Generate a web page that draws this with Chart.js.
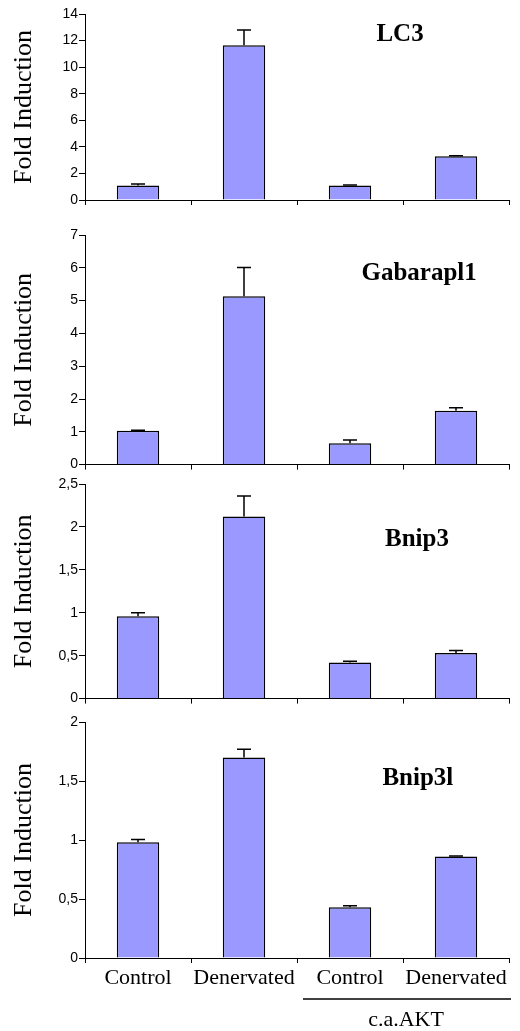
<!DOCTYPE html>
<html>
<head>
<meta charset="utf-8">
<script src="https://cdn.jsdelivr.net/npm/chart.js@4/dist/chart.umd.min.js"></script>
<style>
  html, body { margin: 0; padding: 0; background: #fff; }
  #wrap { position: relative; width: 520px; height: 1031px; }
  .panel { position: absolute; left: 0; width: 520px; }
</style>
</head>
<body>
<div id="wrap">
  <div class="panel" style="top:0px;height:212px"><canvas id="c0"></canvas></div>
  <div class="panel" style="top:212px;height:262px"><canvas id="c1"></canvas></div>
  <div class="panel" style="top:474px;height:234px"><canvas id="c2"></canvas></div>
  <div class="panel" style="top:708px;height:323px"><canvas id="c3"></canvas></div>
</div>
<script>
// datos
const categorias = ["Control", "Denervated", "Control", "Denervated"];
const genes = ["LC3", "Gabarapl1", "Bnip3", "Bnip3l"];

const lc3 = [1.1, 11.65, 1.1, 3.3];
const lc3Err = [0.1, 1.15, 0.02, 0.03];
const gabarapl1 = [1.03, 5.13, 0.65, 1.64];
const gabarapl1Err = [0.02, 0.88, 0.1, 0.09];
const bnip3 = [0.96, 2.12, 0.42, 0.53];
const bnip3Err = [0.04, 0.24, 0.015, 0.03];
const bnip3l = [0.98, 1.70, 0.43, 0.86];
const bnip3lErr = [0.025, 0.07, 0.012, 0.005];

const yMax = [14, 7, 2.5, 2];
const yStep = [2, 1, 0.5, 0.5];
const grupo = "c.a.AKT";

const valores = [lc3, gabarapl1, bnip3, bnip3l];
const errores = [lc3Err, gabarapl1Err, bnip3Err, bnip3lErr];

// layout de cada panel (padding top/bottom, alto del eje x, posicion del titulo del gen)
const paneles = [
  { top: 14, bottom: 5, xh: 7, gx: 0.743, gy: 0.11 },
  { top: 23, bottom: 0, xh: 7, gx: 0.788, gy: 0.17 },
  { top: 10, bottom: 1, xh: 7, gx: 0.783, gy: 0.26 },
  { top: 14, bottom: 28, xh: 45, gx: 0.785, gy: 0.24 },
];

const serif = '"Liberation Serif", "Times New Roman", Times, serif';
const sans = 'Arial, "Liberation Sans", sans-serif';

// barras de error, nombre del gen y la linea del grupo
const extras = {
  id: "extras",
  afterDatasetsDraw(chart, args, opts) {
    const { ctx, chartArea: a, scales: { x, y } } = chart;
    const meta = chart.getDatasetMeta(0);
    ctx.save();
    ctx.strokeStyle = "#000";
    ctx.lineWidth = 1.5;
    meta.data.forEach((bar, i) => {
      const tope = y.getPixelForValue(opts.medias[i] + opts.errs[i]);
      ctx.beginPath();
      ctx.moveTo(bar.x, bar.y);
      ctx.lineTo(bar.x, tope);
      ctx.moveTo(bar.x - 7, tope);
      ctx.lineTo(bar.x + 7, tope);
      ctx.stroke();
    });
    ctx.fillStyle = "#000";
    ctx.textAlign = "center";
    ctx.textBaseline = "middle";
    ctx.font = "bold 25px " + serif;
    ctx.fillText(opts.gen, a.left + opts.gx * a.width, a.top + opts.gy * a.height);
    if (opts.grupo) {
      const x0 = (x.getPixelForValue(1) + x.getPixelForValue(2)) / 2 + 6;
      const ly = a.bottom + 41;
      ctx.lineWidth = 1.5;
      ctx.beginPath();
      ctx.moveTo(x0, ly);
      ctx.lineTo(a.right + 2, ly);
      ctx.stroke();
      ctx.font = "22px " + serif;
      ctx.fillText(opts.grupo, (x0 + a.right) / 2, a.bottom + 62);
    }
    ctx.restore();
  },
};

genes.forEach((gen, k) => {
  const p = paneles[k];
  const ultimo = k === genes.length - 1;
  const ctx = document.getElementById("c" + k).getContext("2d");
  new Chart(ctx, {
    type: "bar",
    data: {
      labels: categorias,
      datasets: [{
        data: valores[k],
        backgroundColor: "#9999FF",
        borderColor: "#000",
        borderWidth: 1.5,
        barPercentage: 0.4,
        categoryPercentage: 1,
      }],
    },
    options: {
      responsive: true,
      maintainAspectRatio: false,
      animation: false,
      layout: { padding: { left: 0, right: 11, top: p.top, bottom: p.bottom } },
      scales: {
        x: {
          offset: true,
          afterFit: (s) => { s.height = p.xh; },
          border: { display: true, color: "#000", width: 1 },
          grid: { display: true, drawOnChartArea: false, offset: true, tickLength: 5, color: "#000" },
          ticks: {
            display: ultimo,
            color: "#000",
            font: { family: serif, size: 22 },
            padding: 2,
            maxRotation: 0,
            minRotation: 0,
            autoSkip: false,
          },
        },
        y: {
          min: 0,
          max: yMax[k],
          afterFit: (s) => { s.width = 85; },
          border: { display: true, color: "#000", width: 1 },
          grid: { display: true, drawOnChartArea: false, tickLength: 6, color: "#000" },
          ticks: {
            stepSize: yStep[k],
            color: "#000",
            padding: 1,
            font: { family: sans, size: 14 },
            callback: (v) => String(v).replace(".", ","),
          },
          title: {
            display: true,
            text: "Fold Induction",
            color: "#000",
            font: { family: serif, size: 26 },
            padding: { top: 9, bottom: 0 },
          },
        },
      },
      plugins: {
        legend: { display: false },
        tooltip: { enabled: false },
        extras: {
          medias: valores[k],
          errs: errores[k],
          gen: gen,
          gx: p.gx,
          gy: p.gy,
          grupo: ultimo ? grupo : null,
        },
      },
    },
    plugins: [extras],
  });
});
</script>
</body>
</html>
